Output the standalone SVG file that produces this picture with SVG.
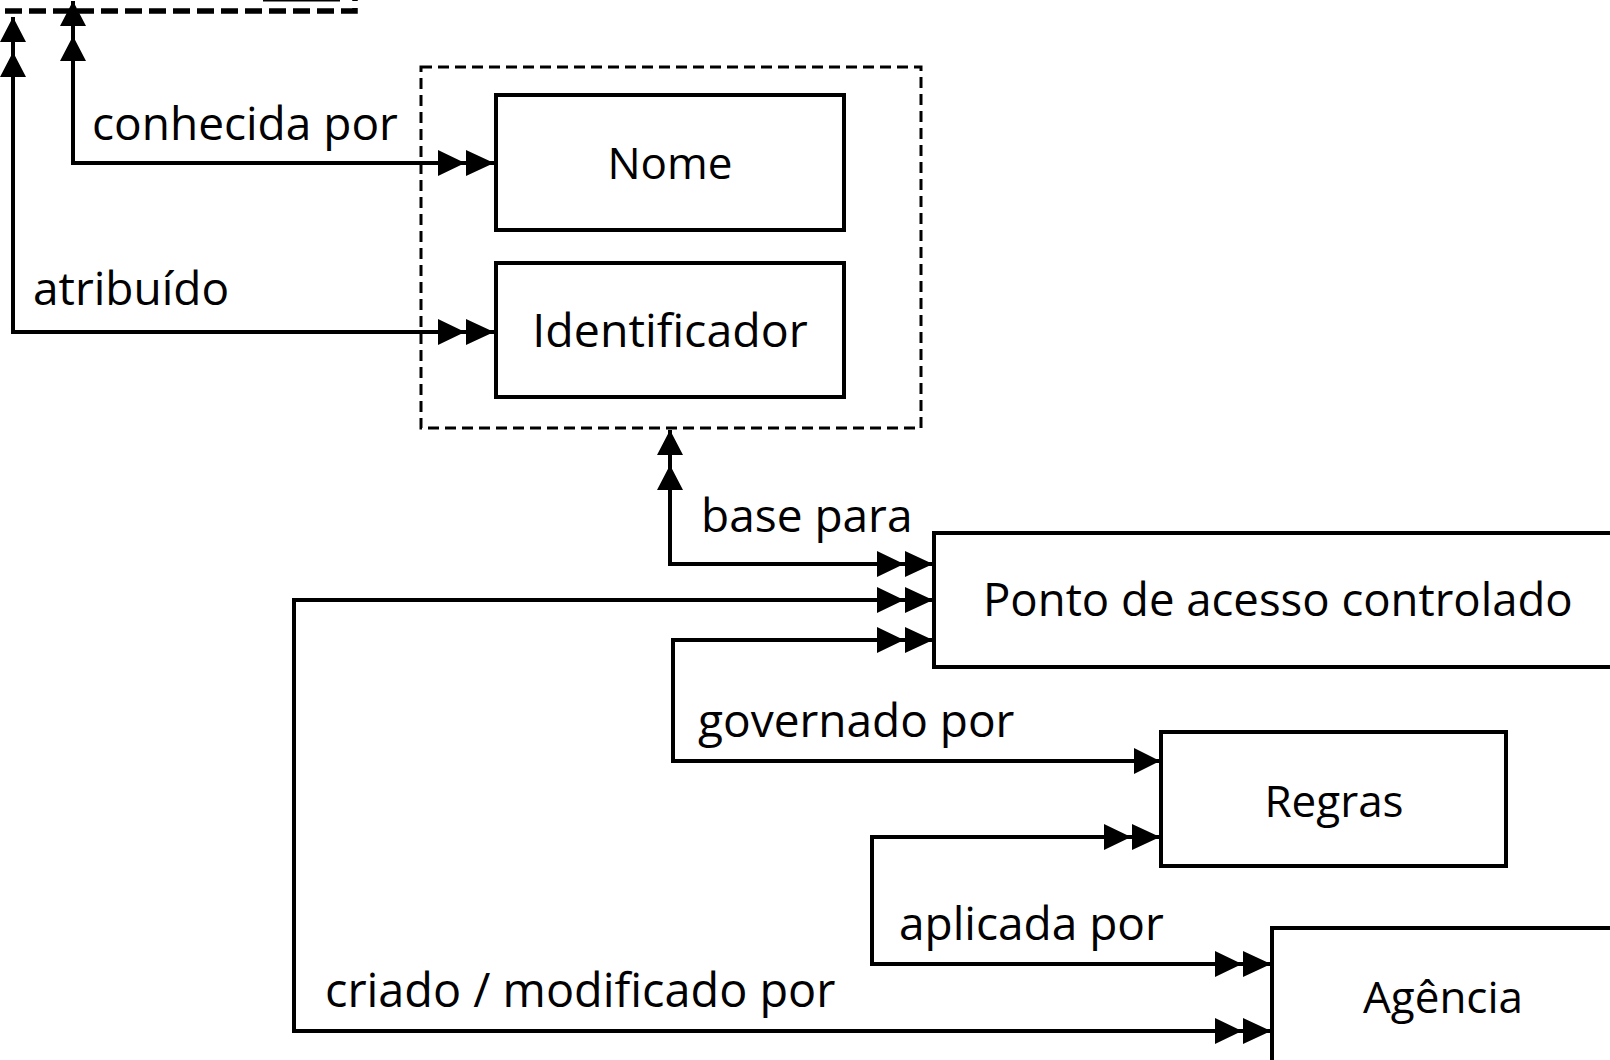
<svg xmlns="http://www.w3.org/2000/svg" width="1610" height="1060" viewBox="0 0 1610 1060">
<style>
.node rect{fill:#fff;stroke:#000;stroke-width:4}
.ntxt{font-family:"Open Sans","Noto Sans",sans-serif;font-size:44px;fill:#000;text-anchor:middle}
.lbl{font-family:"Open Sans","Noto Sans",sans-serif;font-size:46px;fill:#000}
.conn path{fill:none;stroke:#000;stroke-width:4;stroke-linejoin:miter}
</style>
<defs>
<marker id="dbl" viewBox="0 0 56 26" markerWidth="56" markerHeight="26" refX="56" refY="13" orient="auto-start-reverse" markerUnits="userSpaceOnUse">
<path d="M0,0 L27,13 L0,26 Z M28,0 L56,13 L28,26 Z" fill="#000"/>
</marker>
<marker id="dblv" viewBox="0 0 60 26" markerWidth="60" markerHeight="26" refX="60" refY="13" orient="auto-start-reverse" markerUnits="userSpaceOnUse">
<path d="M0,0 L25,13 L0,26 Z M35,0 L60,13 L35,26 Z" fill="#000"/>
</marker>
<marker id="one" viewBox="0 0 26 26" markerWidth="26" markerHeight="26" refX="26" refY="13" orient="auto" markerUnits="userSpaceOnUse">
<path d="M0,0 L26,13 L0,26 Z" fill="#000"/>
</marker>
</defs>
<rect width="1610" height="1060" fill="#fff"/>

<g id="top-group">
<path d="M5,11 H355 V0" fill="none" stroke="#000" stroke-width="5.5" stroke-dasharray="17,7"/>
<line x1="263" y1="0.5" x2="340" y2="0.5" stroke="#000" stroke-width="2"/>
</g>

<g id="ident-group">
<rect x="421" y="67" width="500" height="361" fill="none" stroke="#000" stroke-width="3" stroke-dasharray="11,6"/>
</g>

<g id="nome" class="node">
<rect x="496" y="95" width="348" height="135"/>
<text class="ntxt" x="670" y="179">Nome</text>
</g>
<g id="identificador" class="node">
<rect x="496" y="263" width="348" height="134"/>
<text class="ntxt" x="670" y="347" style="font-size:46.5px">Identificador</text>
</g>
<g id="ponto" class="node">
<rect x="934" y="533" width="700" height="134"/>
<text class="ntxt" x="983" y="616" style="text-anchor:start;font-size:45.5px">Ponto de acesso controlado</text>
</g>
<g id="regras" class="node">
<rect x="1161" y="732" width="345" height="134"/>
<text class="ntxt" x="1334" y="817">Regras</text>
</g>
<g id="agencia" class="node">
<rect x="1272" y="928" width="400" height="160"/>
<text class="ntxt" x="1443" y="1013">Agência</text>
</g>

<g id="connectors" class="conn">
<path d="M73,1 V163 H494" marker-start="url(#dblv)" marker-end="url(#dbl)"/>
<path d="M13,17 V332 H494" marker-start="url(#dblv)" marker-end="url(#dbl)"/>
<path d="M670,430 V564 H933" marker-start="url(#dblv)" marker-end="url(#dbl)"/>
<path d="M933,600 H294 V1031 H1271" marker-start="url(#dbl)" marker-end="url(#dbl)"/>
<path d="M933,640 H673 V761 H1160" marker-start="url(#dbl)" marker-end="url(#one)"/>
<path d="M1160,837 H872 V964 H1271" marker-start="url(#dbl)" marker-end="url(#dbl)"/>
</g>

<g id="labels">
<text class="lbl" x="92" y="140">conhecida por</text>
<text class="lbl" x="33" y="305">atribuído</text>
<text class="lbl" x="701" y="532">base para</text>
<text class="lbl" x="698" y="737">governado por</text>
<text class="lbl" x="899" y="940">aplicada por</text>
<text class="lbl" x="325" y="1007" style="font-size:46.8px">criado / modificado por</text>
</g>
</svg>
